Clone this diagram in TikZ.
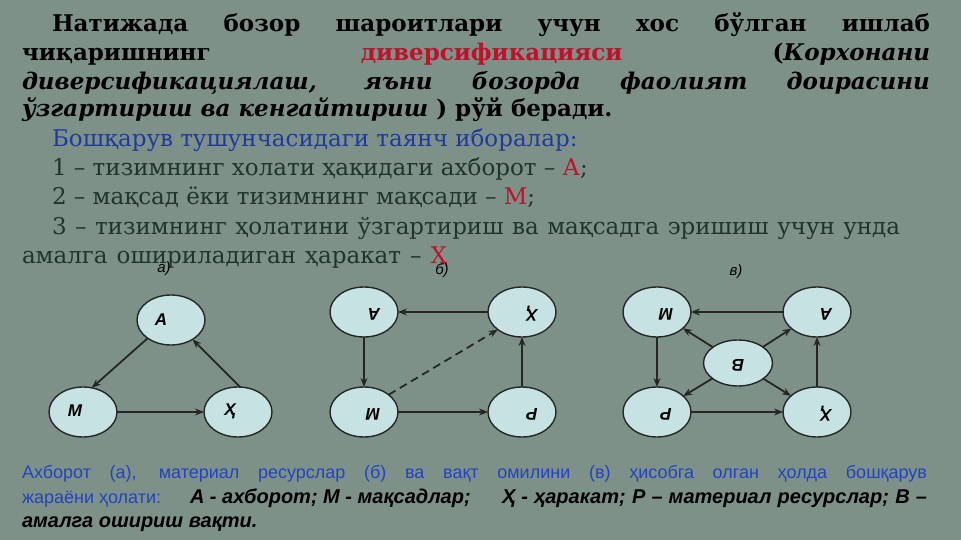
\documentclass[tikz,border=0pt]{standalone}
\usepackage{fontspec}
\setmainfont{DejaVu Serif}
\newfontfamily\arialfont{Liberation Sans}
\usetikzlibrary{shapes.geometric,arrows.meta}
\newcommand\upside[1]{\rotatebox[origin=c]{180}{#1}}
\newcommand\txtsize{\fontsize{23}{28}\selectfont}

\begin{document}
\begin{tikzpicture}[y=1pt, x=1pt, yscale=-1, inner sep=0pt, outer sep=0pt,
  ell/.style={draw=black!85, ellipse, line width=1.4pt, fill=lc, minimum width=68pt, minimum height=50pt},
  arr/.style={-{Stealth[length=9pt,width=7pt]}, line width=1.8pt, draw=black!85},
  lab/.style={font=\arialfont\bfseries\itshape\fontsize{17}{17}\selectfont},
  capt/.style={font=\arialfont\itshape\fontsize{15}{15}\selectfont}]
\definecolor{bg}{HTML}{7E9189}
\definecolor{lc}{HTML}{C6E2E2}
\definecolor{rd}{HTML}{C0102A}
\definecolor{bl}{HTML}{1F3A9E}
\definecolor{gr}{HTML}{1E3528}
\definecolor{bb}{HTML}{2244C0}
\fill[bg] (0,0) rectangle (961,540);
% top paragraph
\node[anchor=base west] (l1) at (52,32) {\txtsize\bfseries
  \makebox[878pt][s]{Натижада бозор шароитлари учун хос бўлган ишлаб}};
\node[anchor=base west] (l2) at (22,61) {\txtsize\bfseries
  \makebox[908pt]{чиқаришнинг\hfill\textcolor{rd}{диверсификацияси}\hfill(\textit{Корхонани}}};
\node[anchor=base west] (l3) at (22,90) {\txtsize\bfseries\itshape
  \makebox[908pt][s]{диверсификациялаш, яъни бозорда фаолият доирасини}};
\node[anchor=base west] (l4) at (22,117) {\txtsize\bfseries
  \textit{ўзгартириш ва кенгайтириш} ) рўй беради.};
% key terms
\node[anchor=base west, text=bl] (k0) at (52,147) {\txtsize
  Бошқарув тушунчасидаги таянч иборалар:};
\node[anchor=base west, text=gr] (k1) at (52,176) {\txtsize
  1 – тизимнинг холати ҳақидаги ахборот – \textcolor{rd}{А};};
\node[anchor=base west, text=gr] (k2) at (52,205) {\txtsize
  2 – мақсад ёки тизимнинг мақсади – \textcolor{rd}{М};};
\node[anchor=base west, text=gr] (k3) at (52,234) {\txtsize
  \makebox[848pt][s]{3 – тизимнинг ҳолатини ўзгартириш ва мақсадга эришиш учун унда}};
\node[anchor=base west, text=gr] (k4) at (22,263) {\txtsize
  \makebox[425pt][s]{амалга ошириладиган ҳаракат – \textcolor{rd}{Ҳ}}};
% captions
\node[capt] (ca) at (164,269) {а)};
\node[capt] (cb) at (442,271) {б)};
\node[capt] (cc) at (736,272) {в)};
% a)
\node[ell] (aA) at (171,320) {};
\node[ell] (aM) at (83,412) {};
\node[ell] (aX) at (238,412) {};
\node[lab] (taA) at (161,320) {А};
\node[lab] (taM) at (75,411) {М};
\node[lab] (taX) at (230,411) {Ҳ};
\draw[arr] (aA.218) -- (aM.70);
\draw[arr] (aM) -- (aX);
\draw[arr] (aX.85) -- (aA.318);
% b)
\node[ell] (bA) at (364,312) {};
\node[ell] (bX) at (522,312) {};
\node[ell] (bM) at (364,412) {};
\node[ell] (bP) at (522,412) {};
\node[lab] (tbA) at (374,314) {\upside{А}};
\node[lab] (tbX) at (532,314) {\upside{Ҳ}};
\node[lab] (tbM) at (373,414) {\upside{М}};
\node[lab] (tbP) at (532,414) {\upside{Р}};
\draw[arr] (bX) -- (bA);
\draw[arr] (bA) -- (bM);
\draw[arr] (bM) -- (bP);
\draw[arr] (bP) -- (bX);
\draw[arr, dash pattern=on 8pt off 5pt] (bM.35) -- (bX.216);
% c)
\node[ell] (cM) at (657,312) {};
\node[ell] (cA) at (817,312) {};
\node[ell, minimum width=69pt, minimum height=46pt] (cB) at (738,363) {};
\node[ell] (cP) at (657,412) {};
\node[ell] (cX) at (817,412) {};
\node[lab] (tcM) at (666,314) {\upside{М}};
\node[lab] (tcA) at (826,314) {\upside{А}};
\node[lab] (tcB) at (738,365) {\upside{В}};
\node[lab] (tcP) at (666,414) {\upside{Р}};
\node[lab] (tcX) at (826,414) {\upside{Ҳ}};
\draw[arr] (cA) -- (cM);
\draw[arr] (cM) -- (cP);
\draw[arr] (cP) -- (cX);
\draw[arr] (cX) -- (cA);
\draw[arr] (cB) -- (cM);
\draw[arr] (cB) -- (cA);
\draw[arr] (cB) -- (cP);
\draw[arr] (cB) -- (cX);
% bottom caption
\node[anchor=base west, text=bb] (n1) at (22,478) {\arialfont\fontsize{18}{20}\selectfont
  \makebox[905pt][s]{Ахборот (а), материал ресурслар (б) ва вақт омилини (в) ҳисобга олган ҳолда бошқарув}};
\node[anchor=base west, text=bb] (n2) at (22,503) {\arialfont\fontsize{18}{20}\selectfont
  жараёни ҳолати:};
\node[anchor=base west] (n2b) at (190,503) {\arialfont\fontsize{20}{20}\selectfont\bfseries\itshape
  А - ахборот; М - мақсадлар;};
\node[anchor=base west] (n2c) at (502,503) {\arialfont\fontsize{20}{20}\selectfont\bfseries\itshape
  \makebox[425pt][s]{Ҳ - ҳаракат; Р – материал ресурслар; В –}};
\node[anchor=base west] (n3) at (22,527) {\arialfont\fontsize{20}{20}\selectfont\bfseries\itshape
  амалга ошириш вақти.};
\end{tikzpicture}
\end{document}
